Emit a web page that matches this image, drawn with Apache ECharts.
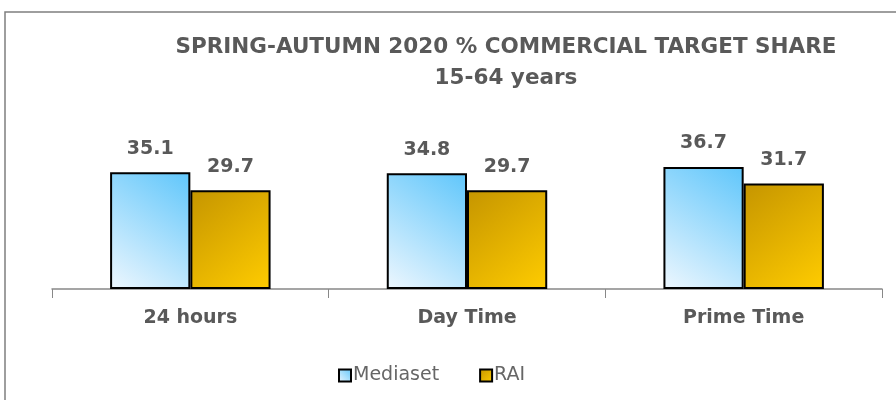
<!DOCTYPE html>
<html lang="en">
<head>
    <meta charset="utf-8">
    <title>Commercial target share</title>
    <script src="https://cdn.jsdelivr.net/npm/echarts@6/dist/echarts.min.js"></script>
    <style>
        html, body { margin: 0; padding: 0; background: #fff; }
        #main { width: 896px; height: 400px; }
    </style>
</head>
<body>
<div id="main"></div>

<script type="text/javascript">
    // data
    var categories = ['24 hours', 'Day Time', 'Prime Time'];
    var mediaset = [35.1, 34.8, 36.7];
    var rai = [29.7, 29.7, 31.7];

    var myChart = echarts.init(document.getElementById('main'));

    var grey = '#595959';
    var font = '"DejaVu Sans", sans-serif';

    var blueFill = new echarts.graphic.LinearGradient(0, 1, 1, 0, [
        {offset: 0, color: '#eef7fe'},
        {offset: 1, color: '#5fc6fb'}
    ]);
    var goldFill = new echarts.graphic.LinearGradient(0, 0, 1, 1, [
        {offset: 0, color: '#c59500'},
        {offset: 1, color: '#ffcc00'}
    ]);

    myChart.setOption({
        animation: false,
        textStyle: {fontFamily: font},
        graphic: [{
            type: 'rect',
            shape: {x: 5, y: 12, width: 1000, height: 500},
            style: {fill: 'none', stroke: '#7f7f7f', lineWidth: 1.5},
            silent: true
        }],
        title: {
            text: 'SPRING-AUTUMN 2020 % COMMERCIAL TARGET SHARE\n15-64 years',
            left: 501,
            top: 27,
            textAlign: 'center',
            textStyle: {
                color: grey,
                fontSize: 21.5,
                fontWeight: 'bold',
                lineHeight: 31,
                fontFamily: font
            }
        },
        legend: {
            data: ['Mediaset', 'RAI'],
            bottom: 10,
            left: 333,
            itemWidth: 12,
            itemHeight: 12,
            itemGap: 40,
            icon: 'rect',
            textStyle: {color: '#666', fontSize: 19, fontFamily: font, padding: [0, 0, 0, -3]}
        },
        grid: {
            left: 52,
            right: 14,
            top: 156,
            bottom: 111
        },
        xAxis: {
            type: 'category',
            data: categories,
            axisLine: {lineStyle: {color: '#888', width: 1.5}},
            axisTick: {show: true, length: 9, lineStyle: {color: '#888'}},
            axisLabel: {color: grey, fontSize: 19, fontWeight: 'bold', margin: 20}
        },
        yAxis: {
            type: 'value',
            min: 0,
            max: 40,
            show: false,
            splitLine: {show: false}
        },
        series: [{
            name: 'Mediaset',
            type: 'bar',
            data: mediaset,
            barGap: '0%',
            barCategoryGap: '42%',
            itemStyle: {color: blueFill, borderColor: '#000', borderWidth: 2},
            label: {
                show: true, position: 'top', distance: 14,
                color: grey, fontSize: 19, fontWeight: 'bold'
            }
        }, {
            name: 'RAI',
            type: 'bar',
            data: rai,
            itemStyle: {color: goldFill, borderColor: '#000', borderWidth: 2},
            label: {
                show: true, position: 'top', distance: 14,
                color: grey, fontSize: 19, fontWeight: 'bold'
            }
        }]
    });
</script>
</body>
</html>
